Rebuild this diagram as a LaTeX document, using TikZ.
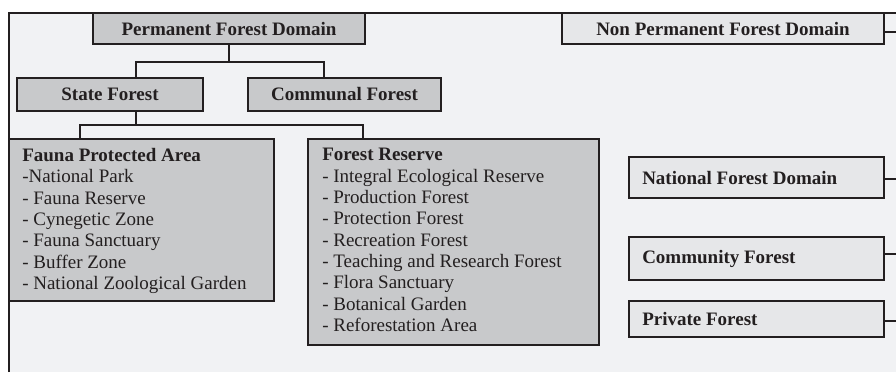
\documentclass[tikz,border=0pt]{standalone}
\usepackage{fontspec}
\setmainfont{Liberation Serif}
\usetikzlibrary{fit}
\definecolor{bgc}{HTML}{F1F2F4}
\definecolor{darkfill}{HTML}{C8C9CB}
\definecolor{lightfill}{HTML}{E6E7E9}
\definecolor{linec}{HTML}{231F20}
\begin{document}
\begin{tikzpicture}[x=0.75pt,y=-0.75pt,
  txt/.style={font=\fontsize{14.25pt}{16pt}\selectfont, text=linec},
  btxt/.style={font=\fontsize{14.25pt}{16pt}\selectfont\bfseries, text=linec},
  darkbox/.style={draw=linec, line width=1.2pt, fill=darkfill, inner sep=0pt},
  lightbox/.style={draw=linec, line width=1.2pt, fill=lightfill, inner sep=0pt},
  conn/.style={draw=linec, line width=1.2pt}]
\useasboundingbox (0,0) rectangle (896,372);
% background frame
\fill[bgc] (9,13) rectangle (896,372);
\draw[conn] (9,372) -- (9,13) -- (896,13);
% junction coordinates
\coordinate (b1) at (136,62);
\coordinate (b2) at (324,62);
\coordinate (c1) at (80,125);
\coordinate (c2) at (363,125);
\coordinate (e1) at (896,32);
\coordinate (e2) at (896,179);
\coordinate (e3) at (896,254);
\coordinate (e4) at (896,321);
% boxes
\node[darkbox, btxt, fit={(93,13) (365,44)}] (pfd) {};
\node[btxt] (pfdt) at (pfd.center) {Permanent Forest Domain};
\node[darkbox, btxt, fit={(17,78) (203,111)}] (sf) {};
\node[btxt] (sft) at (sf.center) {State Forest};
\node[darkbox, btxt, fit={(248,78) (441,111)}] (cf) {};
\node[btxt] (cft) at (cf.center) {Communal Forest};
\node[lightbox, fit={(562,13) (884,44)}] (npfd) {};
\node[btxt] (npfdt) at (npfd.center) {Non Permanent Forest Domain};
\node[darkbox, fit={(9,139) (274,301)}] (fpa) {};
\node[darkbox, fit={(308,139) (599,345)}] (fr) {};
\node[lightbox, fit={(629,157) (884,198)}] (nfd) {};
\node[lightbox, fit={(629,237) (884,280)}] (comf) {};
\node[lightbox, fit={(629,301) (884,337)}] (pf) {};
% connectors
\draw[conn] (pfd.south) -- (pfd.south |- b1);
\draw[conn] (sf.north -| b1) -- (b1) -- (b2) -- (cf.north -| b2);
\draw[conn] (sf.south -| b1) |- (c1);
\draw[conn] (fpa.north -| c1) -- (c1) -- (c2) -- (fr.north -| c2);
\draw[conn] (npfd.east |- e1) -- (e1);
\draw[conn] (nfd.east |- e2) -- (e2);
\draw[conn] (comf.east |- e3) -- (e3);
\draw[conn] (pf.east |- e4) -- (e4);
% texts
\node[txt, anchor=north west, inner sep=0pt, align=left] (fpat) at (22,148)
  {\textbf{Fauna Protected Area}\\-National Park\\- Fauna Reserve\\- Cynegetic Zone\\- Fauna Sanctuary\\- Buffer Zone\\- National Zoological Garden};
\node[txt, anchor=north west, inner sep=0pt, align=left] (frt) at (322,148)
  {\textbf{Forest Reserve}\\- Integral Ecological Reserve\\- Production Forest\\- Protection Forest\\- Recreation Forest\\- Teaching and Research Forest\\- Flora Sanctuary\\- Botanical Garden\\- Reforestation Area};
\node[btxt, anchor=west, inner sep=0pt] (nfdt) at (642,177.5) {National Forest Domain};
\node[btxt, anchor=west, inner sep=0pt] (comft) at (642,258.5) {Community Forest};
\node[btxt, anchor=west, inner sep=0pt] (pft) at (642,319) {Private Forest};
\end{tikzpicture}
\end{document}
